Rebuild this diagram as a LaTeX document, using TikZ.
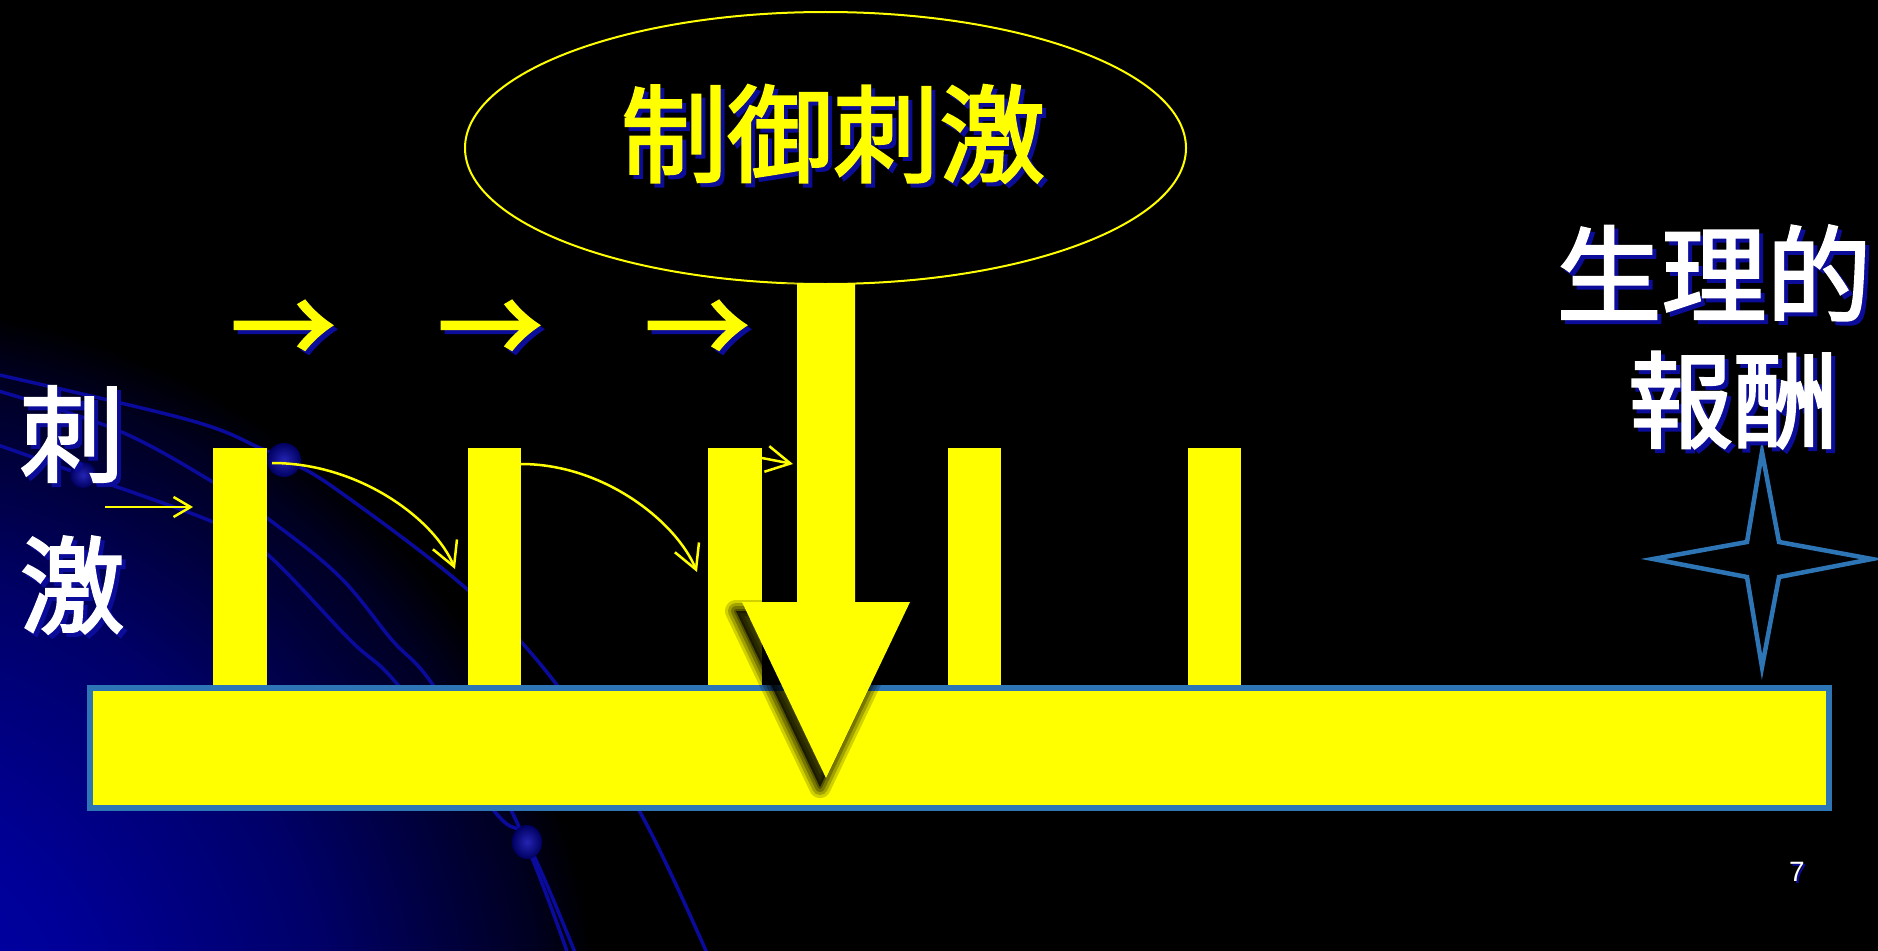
\documentclass[tikz,border=0pt]{standalone}
\usepackage{fontspec}
\newfontfamily\cjkmed{Noto Sans CJK JP}[FakeBold=2.2]
\newfontfamily\lsans{Liberation Sans}
\usetikzlibrary{arrows.meta,shapes.geometric}
\definecolor{ylw}{HTML}{FFFF00}
\definecolor{bdr}{HTML}{2E75B6}
\definecolor{bgline}{HTML}{0A0A9C}
\definecolor{shd}{HTML}{0C0C9A}
\definecolor{cza}{HTML}{0000B0}
\definecolor{czb}{HTML}{000098}
\definecolor{czc}{HTML}{000068}
\definecolor{czd}{HTML}{000022}
\definecolor{sphin}{HTML}{2424B4}
\definecolor{sphout}{HTML}{000060}
\pgfdeclareradialshading{cornerglow}{\pgfpoint{0bp}{0bp}}{color(0bp)=(cza); color(8bp)=(czb); color(16bp)=(czc); color(23bp)=(czd); color(25bp)=(black); color(50bp)=(black)}
\tikzset{
  lbl/.style={inner sep=0pt, outer sep=0pt},
  bigcjk/.style={lbl, font=\cjkmed\fontsize{106}{106}\selectfont},
  sidecjk/.style={lbl, font=\cjkmed\fontsize{105}{105}\selectfont},
  arrowglyph/.style={lbl, font=\cjkmed\fontsize{105}{105}\selectfont},
  bar/.style={fill=ylw, draw=none, minimum width=54pt, minimum height=240pt, inner sep=0pt},
  bgcurve/.style={bgline, line width=3.5pt, line cap=round},
  conn/.style={ylw, line width=2.5pt, -{Straight Barb[length=24pt,width=26pt]}},
  shortconn/.style={ylw, line width=2.5pt, -{Straight Barb[length=17pt,width=20pt]}},
}
\begin{document}
\begin{tikzpicture}[x=1pt,y=-1pt]
\useasboundingbox (0,0) rectangle (1878,950);
\fill[black] (-20,-20) rectangle (1898,970);
\begin{scope}
\clip (-20,-20) rectangle (1898,970);
\shade[shading=cornerglow] (-150,1050) circle (750);
\end{scope}

% background curves
\draw[bgcurve] plot[smooth, tension=0.6] coordinates {(-5,374) (189,420) (260,448) (284,460) (333,487) (468,590) (557,685) (640,812) (710,960)};
\draw[bgcurve] plot[smooth, tension=0.6] coordinates {(-5,390) (117,430) (213,482) (267,518) (339,576) (392,640) (433,685) (512,812) (570,960)};
\draw[bgcurve] plot[smooth, tension=0.6] coordinates {(-5,444) (83,475) (213,522) (267,554) (350,640) (398,685) (495,812) (527,842) (578,960)};
\shade[inner color=sphin, outer color=sphout] (284,460) circle (17);
\shade[inner color=sphin, outer color=sphout] (83,475) circle (13);
\shade[inner color=sphin, outer color=sphout] (527,842) ellipse (15 and 17);

% control ellipse
\node[ellipse, draw=ylw, line width=2pt, fill=black, minimum width=721pt, minimum height=272pt, inner sep=0pt] (ctrl) at (825.5,148) {};
\node[bigcjk, text=shd] at (837,138) {制御刺激};
\node[bigcjk, text=ylw] (ctrltxt) at (833,134) {制御刺激};

% top arrows
\foreach \cx/\nm in {283/a1, 490/a2, 697/a3} {
  \node[arrowglyph, text=shd] at (\cx+4,337) {→};
  \node[arrowglyph, text=ylw] (\nm) at (\cx,333) {→};
}

% bars
\node[bar] (b1) at (240,568) {};
\node[bar, minimum width=53pt] (b2) at (494.5,568) {};
\node[bar] (b3) at (735,568) {};
\node[bar, minimum width=53pt, minimum height=242pt] (b4) at (974.5,569) {};
\node[bar, minimum width=53pt, minimum height=242pt] (b5) at (1214.5,569) {};

% base
\node[draw=bdr, line width=6pt, fill=ylw, minimum width=1739pt, minimum height=120pt, inner sep=0pt] (base) at (959.5,748) {};

% big arrow with soft shadow
\begin{scope}[shift={(-6,9)}]
\foreach \w/\o in {22/0.18, 16/0.22, 10/0.26, 4/0.3} {
  \filldraw[black, opacity=\o, line width=\w pt, line join=round]
    (797,283) -- (855,283) -- (855,602) -- (910,602) -- (826,778) -- (742,602) -- (797,602) -- cycle;
}
\end{scope}
\fill[ylw] (797,283) -- (855,283) -- (855,602) -- (910,602) -- (826,778) coordinate (tip) -- (742,602) -- (797,602) -- cycle;

% thin connectors
\coordinate (s1a) at (105,507);
\coordinate (s1b) at (193,507);
\draw[shortconn] (s1a) -- (s1b);
\coordinate (c1a) at (272,463);
\coordinate (c1b) at (455,569);
\draw[conn] (c1a) .. controls (360,463) and (435,520) .. (c1b);
\coordinate (c2a) at (521,464);
\coordinate (c2b) at (697,572);
\draw[conn] (c2a) .. controls (605,464) and (677,523) .. (c2b);
\coordinate (s3a) at (762,458);
\coordinate (s3b) at (793,464);
\draw[conn] (s3a) -- (s3b);

% star
\draw[bdr, line width=4.5pt, line join=miter] (1762,452) -- (1779,542) -- (1872,559) -- (1779,577) -- (1762,667) -- (1747,577) -- (1653,559) -- (1747,542) -- cycle;

% side labels
\node[sidecjk, text=shd] at (76,438) {刺};
\node[sidecjk, text=white] (lab1) at (72,434) {刺};
\node[sidecjk, text=shd] at (76,589) {激};
\node[sidecjk, text=white] (lab2) at (72,585) {激};
\node[sidecjk, text=shd] at (1718,277) {生理的};
\node[sidecjk, text=white] (rew1) at (1714,273) {生理的};
\node[sidecjk, text=shd] at (1737,404) {報酬};
\node[sidecjk, text=white] (rew2) at (1733,400) {報酬};

% page number
\node[lbl, font=\lsans\fontsize{28}{28}\selectfont, text=shd] at (1799,874) {7};
\node[lbl, font=\lsans\fontsize{28}{28}\selectfont, text=white] (pg) at (1797,872) {7};
\end{tikzpicture}
\end{document}
